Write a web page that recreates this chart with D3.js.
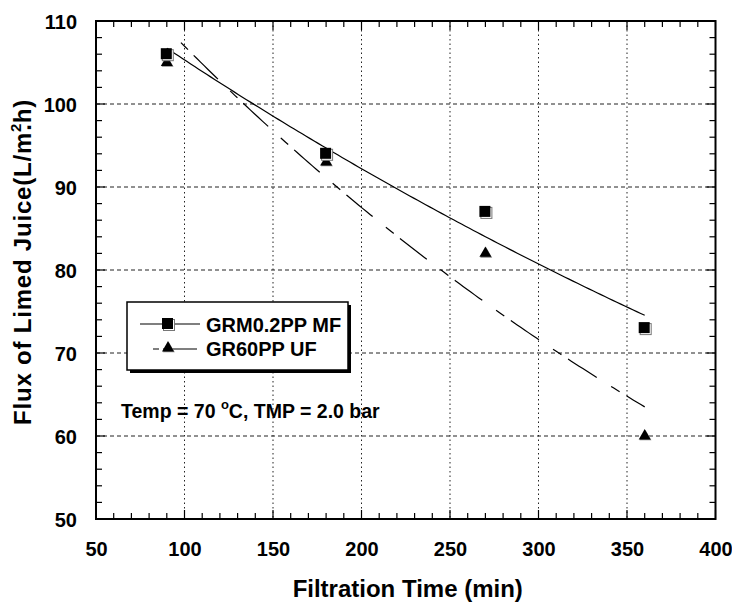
<!DOCTYPE html>
<html>
<head>
<meta charset="utf-8">
<script src="https://cdn.jsdelivr.net/npm/d3@7"></script>
<style>
  html, body { margin: 0; padding: 0; background: #fff; }
  svg { display: block; }
  text { font-family: "Liberation Sans", Arial, Helvetica, sans-serif; font-weight: bold; fill: #000; }
</style>
</head>
<body>
<svg id="chart" width="732" height="602"></svg>
<script>
// ---- data ----
const filtrationTime = [90, 180, 270, 360];
const fluxMF = [106, 94, 87, 73];
const fluxUF = [105, 93, 82, 60];
const seriesNames = ["GRM0.2PP MF", "GR60PP UF"];
const fitStartTime = [90, 98];
const fitEndTime = [360, 360];
const xTickValues = [50, 100, 150, 200, 250, 300, 350, 400];
const yTickValues = [50, 60, 70, 80, 90, 100, 110];
const xTitle = "Filtration Time (min)";
const annotationParts = ["Temp = 70 ", "o", "C, TMP = 2.0 bar"];

// ---- layout ----
const svg = d3.select("#chart");
const L = 96, R = 715.5, T = 21, B = 519;
const x = d3.scaleLinear().domain([50, 400]).range([L, R]);
const y = d3.scaleLinear().domain([50, 110]).range([B, T]);

// gridlines
const grid = svg.append("g");
grid.selectAll("line.h").data(yTickValues.filter(v => v > 50 && v < 110)).join("line")
  .attr("class", "h")
  .attr("x1", L).attr("x2", R).attr("y1", d => y(d)).attr("y2", d => y(d))
  .attr("stroke", "#222").attr("stroke-width", 1).attr("stroke-dasharray", "4,3");
grid.selectAll("line.v").data(xTickValues.filter(v => v > 50 && v < 400)).join("line")
  .attr("class", "v")
  .attr("x1", d => x(d)).attr("x2", d => x(d)).attr("y1", T).attr("y2", B)
  .attr("stroke", "#222").attr("stroke-width", 1).attr("stroke-dasharray", "1.5,3");

// inward ticks on all four sides
const xMinor = d3.range(50, 401, 10).filter(v => v % 50 !== 0);
const yMinor = d3.range(50, 111, 2).filter(v => v % 10 !== 0);
const tg = svg.append("g").attr("stroke", "#000").attr("stroke-width", 1.2);
function xTicksAt(vals, len) {
  vals.forEach(v => {
    tg.append("line").attr("x1", x(v)).attr("x2", x(v)).attr("y1", B).attr("y2", B - len);
    tg.append("line").attr("x1", x(v)).attr("x2", x(v)).attr("y1", T).attr("y2", T + len);
  });
}
function yTicksAt(vals, len) {
  vals.forEach(v => {
    tg.append("line").attr("x1", L).attr("x2", L + len).attr("y1", y(v)).attr("y2", y(v));
    tg.append("line").attr("x1", R).attr("x2", R - len).attr("y1", y(v)).attr("y2", y(v));
  });
}
xTicksAt(xMinor, 6);
xTicksAt(xTickValues, 9);
yTicksAt(yMinor, 6);
yTicksAt(yTickValues, 9);

// tick labels via d3 axes (lines hidden)
const xb = svg.append("g").attr("transform", `translate(0,${B})`)
  .call(d3.axisBottom(x).tickValues(xTickValues).tickSize(0).tickFormat(d3.format("d")));
xb.select(".domain").remove();
xb.selectAll(".tick line").remove();
xb.selectAll(".tick text").attr("y", 37).attr("dy", 0).attr("font-size", 20)
  .attr("font-family", "Liberation Sans, Arial, sans-serif").attr("font-weight", "bold").attr("fill", "#000");
const yl = svg.append("g").attr("transform", `translate(${L},0)`)
  .call(d3.axisLeft(y).tickValues(yTickValues).tickSize(0).tickFormat(d3.format("d")));
yl.select(".domain").remove();
yl.selectAll(".tick line").remove();
yl.selectAll(".tick text").attr("x", -19).attr("dy", "0.36em").attr("font-size", 20)
  .attr("font-family", "Liberation Sans, Arial, sans-serif").attr("font-weight", "bold").attr("fill", "#000");

// frame
svg.append("rect").attr("x", L).attr("y", T).attr("width", R - L).attr("height", B - T)
  .attr("fill", "none").attr("stroke", "#000").attr("stroke-width", 2);

// exponential fits (least squares on ln y)
function expFit(xs, ys) {
  const ly = ys.map(Math.log);
  const mx = d3.mean(xs), my = d3.mean(ly);
  let sxy = 0, sxx = 0;
  xs.forEach((v, i) => { sxy += (v - mx) * (ly[i] - my); sxx += (v - mx) * (v - mx); });
  const b = sxy / sxx, a = my - b * mx;
  return t => Math.exp(a + b * t);
}
const seriesValues = [fluxMF, fluxUF];
const dashes = [null, "10,8,34,17"];
const lineGen = d3.line().x(d => x(d[0])).y(d => y(d[1]));
seriesValues.forEach((vals, i) => {
  const f = expFit(filtrationTime, vals);
  const pts = d3.range(fitStartTime[i], fitEndTime[i] + 0.001, (fitEndTime[i] - fitStartTime[i]) / 120).map(t => [t, f(t)]);
  svg.append("path").attr("d", lineGen(pts)).attr("fill", "none")
    .attr("stroke", "#000").attr("stroke-width", 1.2)
    .attr("stroke-dasharray", dashes[i]);
});

// markers
function drawSquare(g, cx, cy) {
  g.append("rect").attr("x", cx - 4.5).attr("y", cy - 4.5).attr("width", 11).attr("height", 11)
    .attr("fill", "#fff").attr("stroke", "#777").attr("stroke-width", 1);
  g.append("rect").attr("x", cx - 6).attr("y", cy - 6).attr("width", 11).attr("height", 11)
    .attr("fill", "#000");
}
const triSym = d3.symbol().type(d3.symbolTriangle).size(62);
function drawTriangle(g, cx, cy) {
  g.append("path").attr("d", triSym()).attr("transform", `translate(${cx + 0.8},${cy + 0.8})`)
    .attr("fill", "#888");
  g.append("path").attr("d", triSym()).attr("transform", `translate(${cx},${cy})`)
    .attr("fill", "#000");
}
const mk = svg.append("g");
filtrationTime.forEach((t, i) => drawTriangle(mk, x(t), y(fluxUF[i])));
filtrationTime.forEach((t, i) => drawSquare(mk, x(t), y(fluxMF[i])));

// legend
const lg = svg.append("g");
lg.append("rect").attr("x", 130).attr("y", 305).attr("width", 221).attr("height", 68).attr("fill", "#000");
lg.append("rect").attr("x", 127).attr("y", 302).attr("width", 221).attr("height", 68)
  .attr("fill", "#fff").attr("stroke", "#000").attr("stroke-width", 1.5);
lg.append("line").attr("x1", 140).attr("x2", 200).attr("y1", 324).attr("y2", 324).attr("stroke", "#000").attr("stroke-width", 1.2);
drawSquare(lg, 168, 324);
lg.append("line").attr("x1", 153).attr("x2", 197).attr("y1", 349).attr("y2", 349).attr("stroke", "#000").attr("stroke-width", 1.2)
  .attr("stroke-dasharray", "6,4,34,0");
drawTriangle(lg, 168, 348);
lg.selectAll("text.leg").data(seriesNames).join("text")
  .attr("class", "leg")
  .attr("x", 206).attr("y", (d, i) => 332 + i * 24).attr("font-size", 20).text(d => d);

// annotation
const ann = svg.append("text").attr("x", 121).attr("y", 418).attr("font-size", 19.5);
ann.append("tspan").text(annotationParts[0]);
ann.append("tspan").attr("font-size", 13).attr("dy", -9).text(annotationParts[1]);
ann.append("tspan").attr("dy", 9).text(annotationParts[2]);

// axis titles
svg.append("text").attr("x", (L + R) / 2 + 2).attr("y", 597).attr("text-anchor", "middle")
  .attr("font-size", 24).text(xTitle);
const yt = svg.append("text").attr("transform", "translate(31,262) rotate(-90)")
  .attr("text-anchor", "middle").attr("font-size", 24).attr("letter-spacing", 0.8);
yt.append("tspan").text("Flux of Limed Juice(L/m");
yt.append("tspan").attr("font-size", 15).attr("dy", -10).text("2");
yt.append("tspan").attr("dy", 10).attr("dx", -8).text(".h)");
</script>
</body>
</html>
